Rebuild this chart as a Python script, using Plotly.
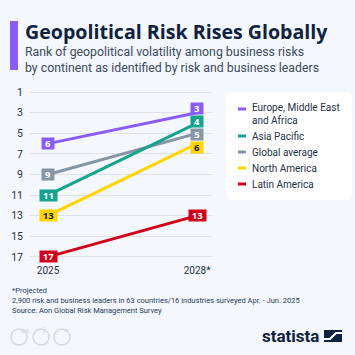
import plotly.graph_objects as go

years = ["2025", "2028*"]
series = ["Europe, Middle East and Africa", "Asia Pacific", "Global average", "North America", "Latin America"]
legend_labels = ["Europe, Middle East<br>and Africa", "Asia Pacific", "Global average", "North America", "Latin America"]
rank_2025 = [6, 11, 9, 13, 17]
rank_2028 = [3, 4, 5, 6, 13]
colors = ["#8a5cf6", "#16a38c", "#8796a5", "#ffd400", "#d0021b"]
label_font_colors = ["#ffffff", "#ffffff", "#ffffff", "#0f2240", "#ffffff"]
# small vertical nudges (px) to keep crowded end labels apart
shift_2025 = [0, 0, 0, 0, 0]
shift_2028 = [4, 1.5, -1, -4, 0]
y_ticks = [1, 3, 5, 7, 9, 11, 13, 15, 17]

W, H = 355, 355
L, R, T, B = 30, 143, 86, 92
pw, ph = W - L - R, H - T - B

def px(x):
    return (x - L) / pw

def py(y):
    return (H - B - y) / ph

BG = "#f4f7fb"
NAVY = "#0f2240"

fig = go.Figure()
xs = [0, 1]
draw_order = [4, 3, 2, 1, 0]
for i in draw_order:
    fig.add_trace(go.Scatter(
        x=xs, y=[rank_2025[i], rank_2028[i]], mode="lines",
        line=dict(color=colors[i], width=3), name=series[i], showlegend=False,
        hoverinfo="skip"))

annotations = []
for i in draw_order:
    for xv, v, sh in zip(xs, [rank_2025[i], rank_2028[i]], [shift_2025[i], shift_2028[i]]):
        annotations.append(dict(
            x=xv, y=v, xref="x", yref="y", text="<b>%d</b>" % v, showarrow=False, yshift=sh,
            font=dict(family="Open Sans", size=9.5, color=label_font_colors[i]),
            bgcolor=colors[i], borderpad=0, width=12 if v < 10 else 17, height=11,
            align="center", valign="middle"))

# Title & subtitle
annotations.append(dict(x=px(23), y=py(31), xref="paper", yref="paper", text="<b>Geopolitical Risk Rises Globally</b>",
                        showarrow=False, xanchor="left", yanchor="middle",
                        font=dict(family="Open Sans", size=19.6, color=NAVY)))
annotations.append(dict(x=px(23), y=py(60), xref="paper", yref="paper",
                        text="Rank of geopolitical volatility among business risks<br>by continent as identified by risk and business leaders",
                        showarrow=False, xanchor="left", yanchor="middle", align="left",
                        font=dict(family="Roboto", size=12.3, color="#3a4a60")))

# Custom legend
legend_y = [109, 136, 152, 168, 184]
legend_y_text = [114, 136, 152, 168, 184]
shapes = []
shapes.append(dict(type="rect", xref="paper", yref="paper", x0=px(10), x1=px(18), y0=py(70), y1=py(21),
                   fillcolor="#8a5cf6", line=dict(width=0), layer="above"))
x0b, x1b, y0b, y1b, r = 226, 352, 92, 200, 6
path = (f"M {px(x0b+r)},{py(y0b)} L {px(x1b-r)},{py(y0b)} Q {px(x1b)},{py(y0b)} {px(x1b)},{py(y0b+r)} "
        f"L {px(x1b)},{py(y1b-r)} Q {px(x1b)},{py(y1b)} {px(x1b-r)},{py(y1b)} "
        f"L {px(x0b+r)},{py(y1b)} Q {px(x0b)},{py(y1b)} {px(x0b)},{py(y1b-r)} "
        f"L {px(x0b)},{py(y0b+r)} Q {px(x0b)},{py(y0b)} {px(x0b+r)},{py(y0b)} Z")
shapes.append(dict(type="path", xref="paper", yref="paper", path=path, fillcolor="#ffffff",
                   line=dict(width=0), layer="below"))
for i in range(len(series)):
    shapes.append(dict(type="line", xref="paper", yref="paper", x0=px(238), x1=px(246),
                       y0=py(legend_y[i]), y1=py(legend_y[i]), line=dict(color=colors[i], width=3)))
    annotations.append(dict(x=px(250), y=py(legend_y_text[i]), xref="paper", yref="paper",
                            text=legend_labels[i], showarrow=False, xanchor="left", yanchor="middle",
                            align="left", font=dict(family="Roboto", size=10, color="#1f2f45")))

# Footer
annotations.append(dict(x=px(10), y=py(300), xref="paper", yref="paper",
                        text="*Projected<br>2,900 risk and business leaders in 63 countries/16 industries surveyed Apr. - Jun. 2025<br>Source: Aon Global Risk Management Survey",
                        showarrow=False, xanchor="left", yanchor="middle", align="left",
                        font=dict(family="Roboto", size=7.5, color="#1f3a5f")))
annotations.append(dict(x=px(321), y=py(336), xref="paper", yref="paper", text="<b>statista</b>",
                        showarrow=False, xanchor="right", yanchor="middle",
                        font=dict(family="Roboto", size=17, color=NAVY)))
shapes.append(dict(type="rect", xref="paper", yref="paper", x0=px(324), x1=px(342), y0=py(342), y1=py(330),
                   fillcolor=NAVY, line=dict(width=0)))
shapes.append(dict(type="path", xref="paper", yref="paper",
                   path=f"M {px(324)},{py(339)} L {px(330)},{py(339)} L {px(336)},{py(333)} L {px(342)},{py(333)}",
                   line=dict(color="#ffffff", width=2.2)))
for cx, t in zip([19, 41, 62], ["cc", "i", "="]):
    shapes.append(dict(type="circle", xref="paper", yref="paper", x0=px(cx-8), x1=px(cx+8),
                       y0=py(345), y1=py(329), line=dict(color="#d5d9de", width=1.5)))
    annotations.append(dict(x=px(cx), y=py(337), xref="paper", yref="paper", text="<b>%s</b>" % t,
                            showarrow=False, font=dict(family="Roboto", size=8, color="#d5d9de")))

fig.update_layout(
    width=W, height=H, margin=dict(l=L, r=R, t=T, b=B),
    paper_bgcolor=BG, plot_bgcolor=BG, showlegend=False,
    xaxis=dict(range=[-0.121, 1.10], tickvals=xs, ticktext=years, showgrid=False, zeroline=False,
               showline=False, ticks="", tickfont=dict(family="Roboto", size=10, color="#1f2f45")),
    yaxis=dict(range=[17.6, 0.4], tickvals=y_ticks, showgrid=True, gridcolor="#dde2e8", gridwidth=1,
               zeroline=False, showline=False, ticks="", ticklabelstandoff=6,
               tickfont=dict(family="Roboto", size=10.5, color="#1f2f45")),
    annotations=annotations, shapes=shapes,
)
fig.write_html("out.html", config={"displayModeBar": False},
               post_script="document.body.style.margin='0px';document.body.style.background='%s';" % BG)
